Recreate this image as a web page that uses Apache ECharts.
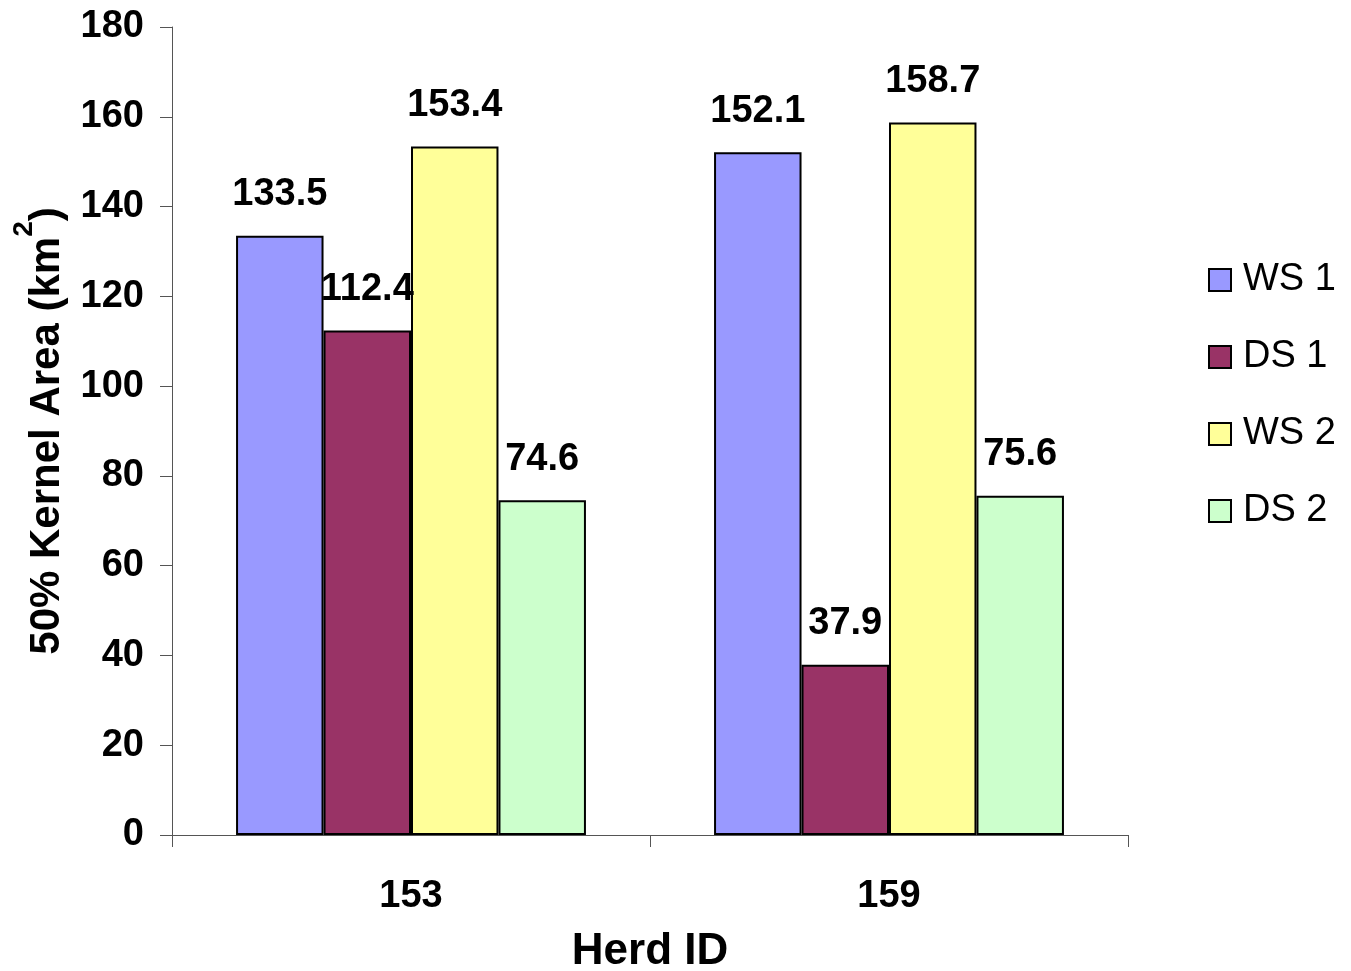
<!DOCTYPE html>
<html><head><meta charset="utf-8">
<script src="https://cdn.jsdelivr.net/npm/echarts@6/dist/echarts.min.js"></script>
<style>html,body{margin:0;padding:0;background:#fff}#c{width:1351px;height:971px}</style>
</head><body><div id="c"></div>
<script>
const categories = ['153', '159'];
const seriesNames = ['WS 1', 'DS 1', 'WS 2', 'DS 2'];
const ws1 = [133.5, 152.1];
const ds1 = [112.4, 37.9];
const ws2 = [153.4, 158.7];
const ds2 = [74.6, 75.6];
const yTicks = { min: 0, max: 180, interval: 20 };
const colors = ['#9999FF', '#993366', '#FFFF99', '#CCFFCC'];
const values = [ws1, ds1, ws2, ds2];

const font = 'Liberation Sans, Arial, sans-serif';
const chart = echarts.init(document.getElementById('c'));
chart.setOption({
  animation: false,
  backgroundColor: '#fff',
  grid: { left: 172, right: 223, top: 27, bottom: 136, outerBoundsMode: 'none', containLabel: false },
  legend: {
    orient: 'vertical', left: 1203, top: 256,
    itemWidth: 22, itemHeight: 22, itemGap: 39,
    icon: 'rect',
    itemStyle: { borderColor: '#000', borderWidth: 2 },
    textStyle: { fontFamily: font, fontSize: 38, color: '#000', padding: [0, 0, 0, 7] },
    data: seriesNames
  },
  xAxis: {
    type: 'category', data: categories,
    name: 'Herd ID', nameLocation: 'middle', nameGap: 95,
    nameTextStyle: { fontFamily: font, fontSize: 44, fontWeight: 'bold', color: '#000' },
    axisLine: { lineStyle: { color: '#555', width: 1 } },
    axisTick: { show: true, length: 12, lineStyle: { color: '#555' } },
    axisLabel: { fontFamily: font, fontSize: 38, fontWeight: 'bold', color: '#000', margin: 43 }
  },
  yAxis: {
    type: 'value', min: yTicks.min, max: yTicks.max, interval: yTicks.interval,
    name: '{a|50% Kernel Area (km}{s|2}{a|)}', nameLocation: 'middle', nameGap: 104,
    nameTextStyle: {
      rich: {
        a: { fontFamily: font, fontSize: 42, fontWeight: 'bold', color: '#000', lineHeight: 58, verticalAlign: 'bottom' },
        s: { fontFamily: font, fontSize: 28, fontWeight: 'bold', color: '#000', verticalAlign: 'top' }
      }
    },
    axisLine: { show: true, lineStyle: { color: '#555', width: 1 } },
    axisTick: { show: true, length: 12, lineStyle: { color: '#555' } },
    splitLine: { show: false },
    axisLabel: { fontFamily: font, fontSize: 38, fontWeight: 'bold', color: '#000', margin: 28 }
  },
  series: seriesNames.map((n, i) => ({
    name: n, type: 'bar', data: values[i],
    barGap: '0%', barCategoryGap: '26.8%',
    itemStyle: { color: colors[i], borderColor: '#000', borderWidth: 2 },
    label: {
      show: true, position: 'top', distance: 22,
      fontFamily: font, fontSize: 38, fontWeight: 'bold', color: '#000',
      formatter: p => p.value.toFixed(1)
    }
  }))
});
</script></body></html>
